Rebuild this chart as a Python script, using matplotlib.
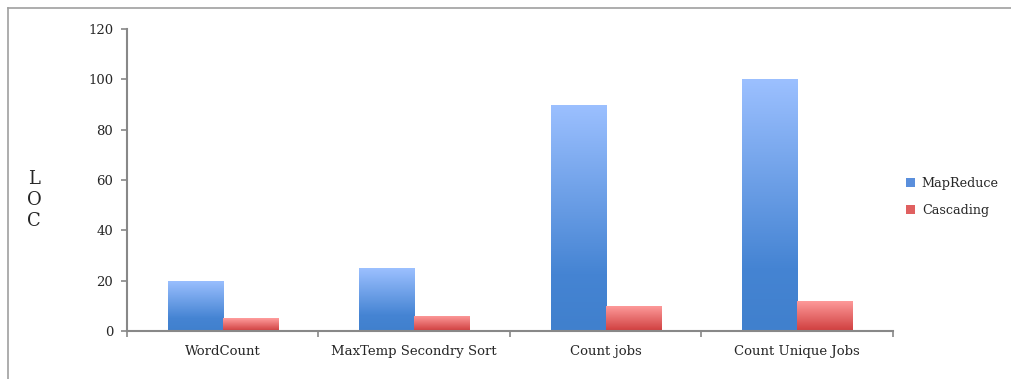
import numpy as np
import matplotlib.pyplot as plt
from matplotlib.colors import LinearSegmentedColormap
from matplotlib.lines import Line2D
from matplotlib.patches import Patch

categories = ['WordCount', 'MaxTemp Secondry Sort', 'Count jobs', 'Count Unique Jobs']
mapreduce = [20, 25, 90, 100]
cascading = [5, 6, 10, 12]

plt.rcParams['font.family'] = ['DejaVu Serif']
txt_col = '#262626'

fig = plt.figure(figsize=(10.12, 3.79), dpi=100)
ax = fig.add_axes([127 / 1012, 1 - 331 / 379, 766 / 1012, 302 / 379])

# outer frame (top and left edges visible)
fig.add_artist(Line2D([8 / 1012, 1], [1 - 8 / 379, 1 - 8 / 379], color='#a0a0a0', lw=1.2))
fig.add_artist(Line2D([8 / 1012, 8 / 1012], [0, 1 - 8 / 379], color='#a0a0a0', lw=1.2))

x = np.arange(len(categories))
w = 0.288
blue_cm = LinearSegmentedColormap.from_list('b', [(0, '#4080cd'), (0.25, '#4584d3'), (1, '#9cc0ff')])
red_cm = LinearSegmentedColormap.from_list('r', [(0, '#cf3e3e'), (1, '#ff9d9d')])

def grad_bars(xs, vals, cmap):
    bars = ax.bar(xs, vals, w, color='none')
    for b in bars:
        x0, y0 = b.get_x(), b.get_y()
        bw, bh = b.get_width(), b.get_height()
        grad = np.linspace(0, 1, 256).reshape(-1, 1)
        im = ax.imshow(grad, cmap=cmap, origin='lower', aspect='auto',
                       extent=[x0, x0 + bw, y0, y0 + bh], zorder=2)
        im.set_clip_path(b)
    return bars

grad_bars(x - w / 2, mapreduce, blue_cm)
grad_bars(x + w / 2, cascading, red_cm)

ax.set_xlim(-0.5, len(categories) - 0.5)
ax.set_ylim(0, 120)
ax.set_yticks(range(0, 121, 20))
ax.set_xticks(x)
ax.set_xticklabels(categories, fontsize=9.5, color=txt_col)
ax.set_xticks(np.arange(-0.5, len(categories)), minor=True)
ax.tick_params(axis='x', which='major', length=0, pad=10)
ax.tick_params(axis='x', which='minor', length=4, color='#888888', width=1.2)
ax.tick_params(axis='y', length=4, color='#888888', width=1.2, labelsize=9.5,
               pad=6, labelcolor=txt_col)

for s in ['top', 'right']:
    ax.spines[s].set_visible(False)
for s in ['left', 'bottom']:
    ax.spines[s].set_color('#888888')
    ax.spines[s].set_linewidth(1.5)

fig.text(34 / 1012, 1 - 200 / 379, 'L\nO\nC', fontsize=13, ha='center', va='center',
         linespacing=1.2, color=txt_col)

handles = [Patch(facecolor='#5a8fdc', label='MapReduce'),
           Patch(facecolor='#e06060', label='Cascading')]
fig.legend(handles=handles, loc='center left', bbox_to_anchor=(895 / 1012, 1 - 197 / 379),
           frameon=False, fontsize=9.2, handlelength=0.7, handleheight=0.7,
           labelspacing=1.1, handletextpad=0.5, labelcolor=txt_col)

fig.savefig('out.png', dpi=100)
